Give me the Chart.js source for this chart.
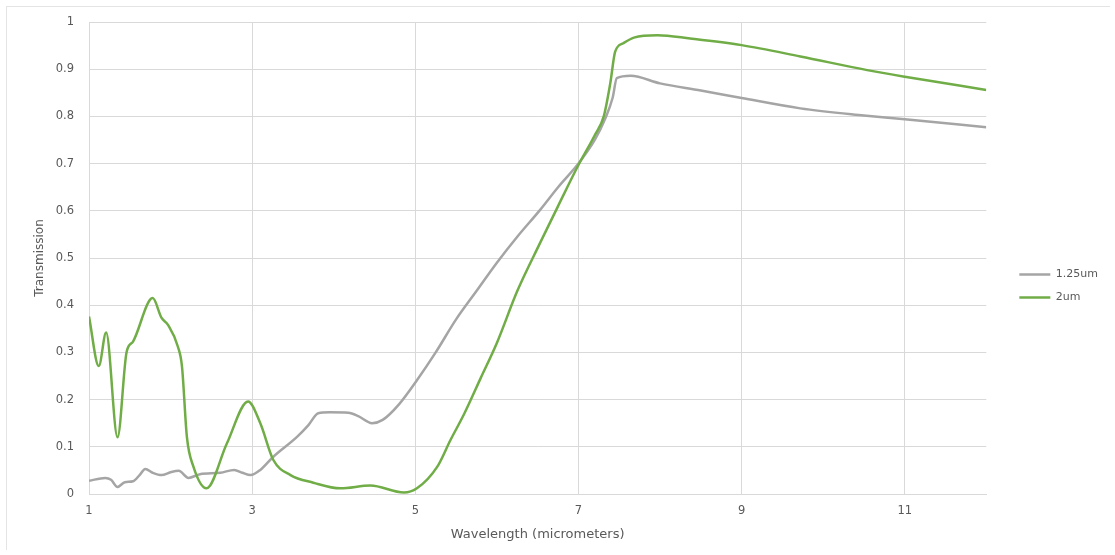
<!DOCTYPE html>
<html>
<head>
<meta charset="utf-8">
<script src="https://cdn.jsdelivr.net/npm/chart.js@4.4.1/dist/chart.umd.min.js"></script>
<style>
  html, body { margin: 0; background: #fff; }
  #wrap {
    position: absolute; left: 6px; top: 6px; width: 1103px; height: 543px;
    border-top: 1px solid #e4e4e4; border-left: 1px solid #e4e4e4;
  }
  canvas { display: block; }
</style>
</head>
<body>
<div id="wrap"><canvas id="myChart"></canvas></div>
<script>
// wavelength (micrometers) and transmission
const wl125 = [1.0, 1.2, 1.27, 1.35, 1.44, 1.54, 1.62, 1.69, 1.78, 1.89, 2.0, 2.1, 2.22, 2.36, 2.61, 2.78, 2.88, 2.98, 3.1, 3.26, 3.55, 3.69, 3.81, 3.95, 4.18, 4.3, 4.47, 4.6, 4.8, 5.02, 5.25, 5.5, 5.75, 6.0, 6.25, 6.53, 6.75, 7.0, 7.2, 7.33, 7.42, 7.47, 7.64, 8.0, 8.5, 9.0, 9.72, 10.5, 11.0, 12.0];
const t125 = [0.028, 0.034, 0.03, 0.015, 0.025, 0.027, 0.04, 0.053, 0.045, 0.04, 0.046, 0.049, 0.034, 0.042, 0.045, 0.051, 0.045, 0.04, 0.051, 0.079, 0.121, 0.146, 0.171, 0.173, 0.172, 0.165, 0.15, 0.157, 0.19, 0.241, 0.3, 0.37, 0.43, 0.49, 0.545, 0.602, 0.65, 0.7, 0.75, 0.796, 0.84, 0.881, 0.886, 0.87, 0.855, 0.839, 0.817, 0.802, 0.794, 0.777];

const wl2 = [1.0, 1.12, 1.21, 1.35, 1.46, 1.54, 1.78, 1.89, 1.97, 2.09, 2.14, 2.2, 2.28, 2.44, 2.69, 2.95, 3.1, 3.26, 3.47, 3.75, 4.08, 4.45, 4.86, 5.02, 5.27, 5.43, 5.6, 5.8, 6.0, 6.25, 6.53, 6.75, 7.0, 7.2, 7.31, 7.39, 7.45, 7.55, 7.68, 7.97, 8.37, 9.0, 9.72, 10.54, 11.0, 12.0];
const t2 = [0.376, 0.271, 0.342, 0.12, 0.3, 0.323, 0.415, 0.373, 0.358, 0.312, 0.27, 0.121, 0.058, 0.012, 0.107, 0.196, 0.15, 0.072, 0.04, 0.024, 0.012, 0.018, 0.003, 0.012, 0.058, 0.114, 0.17, 0.245, 0.32, 0.43, 0.532, 0.61, 0.697, 0.76, 0.8, 0.87, 0.937, 0.955, 0.967, 0.972, 0.965, 0.951, 0.927, 0.898, 0.884, 0.856];

const seriesNames = ["1.25um", "2um"];
const xTicks = [1, 3, 5, 7, 9, 11];
const yTicks = [0, 0.1, 0.2, 0.3, 0.4, 0.5, 0.6, 0.7, 0.8, 0.9, 1];

const textColor = "#595959";
const gridColor = "#d9d9d9";
const fontFamily = "'DejaVu Sans', sans-serif";

const toPoints = (xs, ys) => xs.map((x, i) => ({ x: x, y: ys[i] }));

const ctx = document.getElementById("myChart");
const chart = new Chart(ctx, {
  type: "line",
  data: {
    datasets: [
      {
        label: seriesNames[0],
        data: toPoints(wl125, t125),
        borderColor: "#a5a5a5",
        backgroundColor: "#a5a5a5",
        borderWidth: 2.5,
        order: 1,
      },
      {
        label: seriesNames[1],
        data: toPoints(wl2, t2),
        borderColor: "#70ad47",
        backgroundColor: "#70ad47",
        borderWidth: 2.5,
        order: 0,
      },
    ],
  },
  options: {
    animation: false,
    responsive: true,
    maintainAspectRatio: false,
    layout: { padding: { top: 15, right: 2, left: 0, bottom: 0 } },
    elements: {
      point: { radius: 0 },
      line: { cubicInterpolationMode: "monotone", tension: 0.4 },
    },
    plugins: {
      tooltip: { enabled: false },
      legend: {
        position: "right",
        labels: {
          usePointStyle: true,
          pointStyle: "line",
          pointStyleWidth: 31,
          padding: 12,
          color: textColor,
          font: { family: fontFamily, size: 11 },
          sort: (a, b) => a.datasetIndex - b.datasetIndex,
        },
      },
    },
    scales: {
      x: {
        type: "linear",
        min: 1,
        max: 12,
        afterBuildTicks: (axis) => { axis.ticks = xTicks.map((v) => ({ value: v })); },
        afterFit: (axis) => { axis.height = 56; },
        grid: { color: gridColor, drawTicks: false },
        border: { color: gridColor },
        ticks: { color: textColor, font: { family: fontFamily, size: 11.5 }, padding: 10, maxRotation: 0 },
        title: {
          display: true,
          text: "Wavelength (micrometers)",
          color: textColor,
          font: { family: fontFamily, size: 13 },
          padding: { top: 0, bottom: 8 },
        },
      },
      y: {
        min: 0,
        max: 1,
        afterBuildTicks: (axis) => { axis.ticks = yTicks.map((v) => ({ value: v })); },
        afterFit: (axis) => {
          axis.width = 82;
          axis.paddingTop = 0;
          axis.paddingBottom = 0;
        },
        grid: { color: gridColor, drawTicks: false },
        border: { color: gridColor },
        ticks: {
          color: textColor,
          font: { family: fontFamily, size: 11.5 },
          padding: 15,
          callback: (v) => String(v),
        },
        title: {
          display: true,
          text: "Transmission",
          color: textColor,
          font: { family: fontFamily, size: 12 },
          padding: { top: 26, bottom: 0 },
        },
      },
      gap: {
        position: "right",
        display: true,
        afterFit: (axis) => { axis.width = 21; },
        grid: { display: false },
        border: { display: false },
        ticks: { display: false },
      },
    },
  },
});
</script>
</body>
</html>
